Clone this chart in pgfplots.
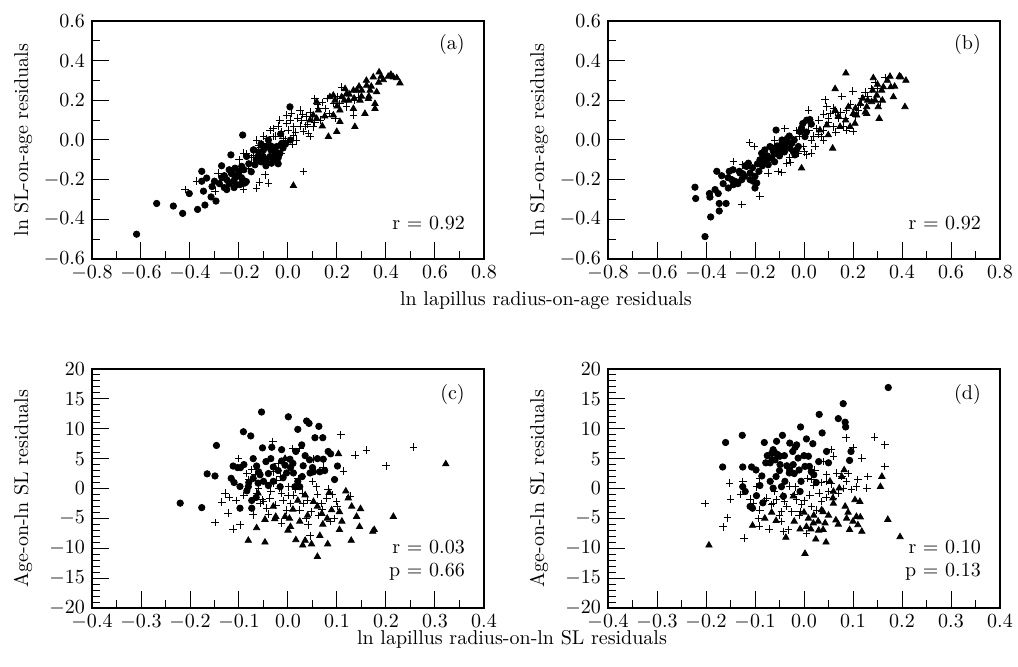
\documentclass[border=0pt]{standalone}
\usepackage{pgfplots}
\pgfplotsset{compat=1.18}
\pgfplotsset{
  panel/.style={
    scale only axis, width=196pt, anchor=south west,
    axis line style={line width=0.6pt},
    tick align=inside, xtick pos=bottom, ytick pos=left,
    major tick length=8.5pt, minor tick length=4pt,
    every tick/.style={black, line width=0.5pt},
    minor x tick num=1,
    xticklabel style={/pgf/number format/.cd, fixed, fixed zerofill, precision=1},
    clip=false,
  },
  top/.style={panel, height=119pt, xmin=-0.8, xmax=0.8, ymin=-0.6, ymax=0.6,
    xtick={-0.8,-0.6,-0.4,-0.2,0,0.2,0.4,0.6,0.8},
    ytick={-0.6,-0.4,-0.2,0,0.2,0.4,0.6}, minor y tick num=1,
    yticklabel style={/pgf/number format/.cd, fixed, fixed zerofill, precision=1}},
  bot/.style={panel, height=119.5pt, xmin=-0.4, xmax=0.4, ymin=-20, ymax=20,
    xtick={-0.4,-0.3,-0.2,-0.1,0,0.1,0.2,0.3,0.4},
    ytick={-20,-15,-10,-5,0,5,10,15,20}, minor y tick num=4},
  circ/.style={only marks, mark=*, mark size=1.6pt, black},
  plus/.style={only marks, mark=+, mark size=1.9pt, black, mark options={line width=0.45pt}},
  tri/.style={only marks, mark=triangle*, mark size=1.8pt, black},
}
\begin{document}
\begin{tikzpicture}
\path[use as bounding box] (0pt,0pt) rectangle (509pt,-333.5pt);
% ---------------- (a)
\begin{axis}[top, at={(46pt,-129.5pt)}]
\addplot[circ] table {
-0.618 -0.475
-0.536 -0.32
-0.468 -0.333
-0.43 -0.37
-0.403 -0.27
-0.369 -0.35
-0.339 -0.328
-0.352 -0.158
-0.352 -0.208
-0.345 -0.258
-0.332 -0.192
-0.314 -0.287
-0.294 -0.308
-0.3 -0.208
-0.31 -0.235
-0.271 -0.13
-0.25 -0.25
-0.233 -0.075
-0.25 -0.2
-0.231 -0.167
-0.223 -0.208
-0.216 -0.142
-0.21 -0.225
-0.203 -0.175
-0.196 -0.225
-0.185 0.025
-0.176 -0.217
-0.189 -0.133
-0.169 -0.083
-0.141 -0.05
-0.135 -0.125
-0.122 -0.083
-0.101 -0.083
-0.087 -0.033
-0.073 -0.083
-0.067 -0.117
-0.06 -0.05
-0.046 -0.1
-0.033 -0.067
-0.046 -0.033
-0.026 -0.017
0.008 0.167
-0.26 -0.18
-0.24 -0.15
-0.215 -0.19
-0.2 -0.16
-0.185 -0.2
-0.16 -0.12
-0.12 -0.06
-0.09 -0.1
-0.07 -0.05
-0.055 -0.08
-0.04 -0.12
-0.08 0.0
-0.03 0.03
-0.28 -0.22
-0.27 -0.19
-0.26 -0.24
-0.24 -0.22
-0.23 -0.17
-0.22 -0.24
-0.21 -0.18
-0.19 -0.19
-0.18 -0.15
-0.17 -0.21
-0.15 -0.16
-0.14 -0.05
-0.13 -0.1
-0.11 -0.11
-0.1 -0.05
-0.09 -0.13
-0.07 -0.03
-0.06 -0.1
-0.05 -0.06
-0.04 -0.09
-0.02 -0.04
-0.01 -0.02
0.01 0.0
-0.11 -0.02
};
\addplot[plus] table {
-0.42 -0.25
-0.373 -0.208
-0.298 -0.258
-0.285 -0.167
-0.182 -0.25
-0.128 -0.242
-0.117 -0.213
-0.08 -0.217
-0.094 -0.175
0.063 -0.158
-0.162 -0.142
-0.182 -0.067
-0.128 0
-0.107 -0.017
-0.087 0.008
-0.073 0.05
-0.06 0.017
-0.033 0.1
-0.026 0.042
-0.005 0.083
0.022 0.067
0.015 0.133
0.049 0.15
0.056 0.1
0.076 0.117
0.083 0.033
0.103 0.067
0.11 0.208
0.124 0.158
0.131 0.1
0.151 0.158
0.171 0.133
0.185 0.183
0.192 0.108
0.212 0.183
0.219 0.267
0.239 0.167
0.267 0.125
0.273 0.2
0.287 0.217
-0.005 0.125
0.035 0
0.022 0.025
0.063 0.042
0.09 0.017
-0.026 -0.067
-0.012 0
-0.06 0.058
-0.15 -0.09
-0.11 -0.04
0.04 0.11
0.07 0.07
0.1 0.12
0.14 0.19
-0.2 -0.1
-0.17 -0.07
-0.14 -0.08
-0.12 -0.03
-0.1 0.02
-0.05 0.02
-0.04 0.07
-0.02 0.01
0.0 0.05
0.01 0.1
0.03 0.04
0.05 0.07
0.06 0.13
0.08 0.08
0.09 0.14
0.11 0.09
0.12 0.18
0.15 0.12
0.16 0.21
0.2 0.22
0.02 -0.02
-0.08 -0.04
};
\addplot[tri] table {
0.022 -0.23
0.165 0.017
0.199 0.042
0.212 0.092
0.171 0.217
0.185 0.225
0.233 0.258
0.273 0.067
0.28 0.25
0.314 0.133
0.321 0.275
0.335 0.25
0.355 0.158
0.355 0.183
0.362 0.242
0.348 0.317
0.372 0.342
0.389 0.303
0.409 0.32
0.43 0.317
0.444 0.313
0.457 0.287
0.294 0.2
0.267 0.158
0.247 0.2
0.212 0.15
0.192 0.2
0.124 0.15
0.117 0.108
0.103 0.125
0.09 0.1
0.239 0.233
0.301 0.25
0.267 0.25
0.328 0.208
0.117 0.192
0.185 0.125
0.219 0.217
0.15 0.12
0.14 0.07
0.2 0.17
0.23 0.2
0.25 0.23
0.27 0.21
0.3 0.22
0.32 0.3
0.34 0.27
0.33 0.22
0.29 0.27
0.38 0.32
0.42 0.33
0.37 0.29
};
\node[anchor=east] at (rel axis cs:0.969,0.90) {(a)};
\node[anchor=base east] at (rel axis cs:0.969,0.122) {r = 0.92};
\end{axis}
% ---------------- (b)
\begin{axis}[top, at={(304pt,-129.5pt)}]
\addplot[circ] table {
-0.445 -0.238
-0.442 -0.295
-0.404 -0.487
-0.381 -0.388
-0.386 -0.27
-0.384 -0.288
-0.363 -0.25
-0.35 -0.27
-0.346 -0.32
-0.346 -0.358
-0.318 -0.32
-0.356 -0.158
-0.336 -0.18
-0.309 -0.242
-0.305 -0.158
-0.295 -0.2
-0.288 -0.225
-0.282 -0.208
-0.264 -0.158
-0.254 -0.2
-0.243 -0.183
-0.234 -0.133
-0.227 -0.117
-0.22 -0.167
-0.207 -0.208
-0.2 -0.242
-0.193 -0.217
-0.184 -0.158
-0.173 -0.067
-0.166 -0.092
-0.159 -0.117
-0.152 -0.1
-0.146 -0.125
-0.139 -0.033
-0.132 -0.092
-0.125 -0.058
-0.114 0.05
-0.105 -0.042
-0.091 -0.02
-0.078 -0.033
-0.068 0.008
-0.057 -0.042
-0.05 -0.017
-0.037 -0.075
-0.023 -0.033
-0.016 0.042
0.004 0.017
-0.005 0.083
0.011 0.1
0.024 0.103
-0.044 -0.058
-0.098 -0.067
-0.2 -0.183
-0.261 -0.167
-0.15 -0.08
-0.12 -0.07
-0.085 -0.05
-0.07 -0.01
-0.33 -0.22
-0.31 -0.19
-0.29 -0.15
-0.27 -0.22
-0.25 -0.17
-0.24 -0.13
-0.22 -0.2
-0.21 -0.14
-0.19 -0.12
-0.18 -0.1
-0.17 -0.13
-0.16 -0.05
-0.14 -0.09
-0.13 -0.04
-0.12 -0.11
-0.11 -0.03
-0.1 -0.08
-0.09 0.0
-0.08 -0.06
-0.06 0.02
-0.04 0.0
-0.03 -0.05
-0.01 0.06
0.01 0.04
0.03 0.08
};
\addplot[plus] table {
-0.254 -0.325
-0.18 -0.283
-0.288 -0.108
-0.223 -0.013
-0.203 -0.033
-0.25 -0.125
-0.146 -0.167
-0.105 -0.158
-0.091 -0.163
-0.071 -0.117
-0.057 -0.113
-0.078 0.058
-0.03 0.047
0.018 0.15
0.031 -0.067
0.011 -0.075
0.052 0.058
0.072 0.017
0.086 0.203
0.093 0.167
0.106 0.133
0.12 0.067
0.14 0.108
0.154 0.22
0.174 0.05
0.199 0.247
0.201 0.042
0.222 0.15
0.249 0.242
0.276 0.258
0.29 0.292
0.331 0.313
0.31 0.192
0.045 -0.033
-0.003 -0.033
0.079 0
0.174 0.15
0.235 0.208
-0.044 0
-0.023 -0.067
0.06 0.03
0.1 0.09
0.13 0.14
0.03 0.0
-0.12 0.0
-0.06 -0.09
-0.02 0.02
0.0 -0.06
0.02 0.05
0.04 0.02
0.06 0.1
0.08 0.05
0.1 0.11
0.12 0.16
0.13 0.04
0.15 0.14
0.17 0.11
0.19 0.18
0.21 0.12
0.23 0.18
0.26 0.22
0.3 0.26
0.08 0.13
0.16 0.07
};
\addplot[tri] table {
-0.01 -0.142
0.117 -0.042
0.127 0.15
0.171 0.337
0.127 0.258
0.147 0.067
0.188 0.067
0.208 0.083
0.215 0.125
0.229 0.183
0.256 0.133
0.256 0.167
0.283 0.313
0.29 0.2
0.303 0.167
0.307 0.108
0.317 0.25
0.351 0.32
0.354 0.267
0.365 0.217
0.389 0.32
0.395 0.317
0.416 0.3
0.412 0.167
0.093 0.075
0.099 0.025
0.065 0.05
0.181 0.167
0.201 0.133
0.276 0.192
0.297 0.225
0.324 0.267
0.14 0.12
0.17 0.1
0.21 0.16
0.24 0.21
0.26 0.2
0.28 0.25
0.3 0.28
0.32 0.2
0.34 0.3
0.37 0.27
0.39 0.32
0.25 0.14
};
\node[anchor=east] at (rel axis cs:0.969,0.90) {(b)};
\node[anchor=base east] at (rel axis cs:0.969,0.122) {r = 0.92};
\end{axis}
% ---------------- (c)
\begin{axis}[bot, at={(46pt,-304pt)}]
\addplot[circ] table {
-0.22 -2.45
-0.176 -3.2
-0.165 2.45
-0.149 2.1
-0.146 7.2
-0.116 1.7
-0.112 3.76
-0.103 3.5
-0.097 3.5
-0.098 0.33
-0.091 9.5
-0.084 -0.4
-0.076 8.8
-0.074 -2.0
-0.071 5.0
-0.064 3.76
-0.071 1.7
-0.061 0.9
-0.057 2.3
-0.054 12.8
-0.052 6.8
-0.05 1.2
-0.033 6.9
-0.035 5.0
-0.03 3.6
-0.013 6.5
-0.013 4.6
-0.003 2.6
0.0007 12.0
0.004 4.9
0.01 4.2
0.016 6.2
0.02 9.9
0.028 7.3
0.031 3.8
0.038 11.3
0.043 10.9
0.044 4.8
0.045 2.6
0.055 8.5
0.063 10.4
0.071 8.5
0.065 2.8
0.082 6.2
0.087 5.8
0.072 4.9
0.101 3.76
0.095 1.5
-0.016 0.3
0.024 0.3
0.029 2.0
0.014 0.3
-0.006 3.9
-0.03 1.2
0.011 2.6
0.052 2.8
-0.074 -3.3
-0.098 -3.3
-0.081 0.3
-0.04 2.5
-0.09 4.0
-0.08 1.0
-0.06 2.8
-0.045 4.5
-0.04 0.5
-0.02 3.0
-0.01 1.8
0.005 3.5
0.02 1.2
0.035 5.5
0.05 3.5
0.06 5.0
0.075 3.0
-0.11 1.0
-0.065 -1.5
};
\addplot[plus] table {
-0.149 -5.7
-0.112 -6.8
-0.098 -6.1
-0.122 -4.1
-0.135 -2.3
-0.128 -0.8
-0.106 -2.0
-0.101 5.0
-0.084 2.5
-0.074 3.2
-0.067 2.3
-0.064 -0.8
-0.057 -2.5
-0.05 -2.2
-0.044 -3.3
-0.037 -1.6
-0.031 7.9
-0.03 2.8
-0.023 1.4
-0.018 0.06
-0.013 -0.8
-0.01 -2.0
-0.003 -3.6
0.0007 0.3
0.01 6.7
0.011 -1.1
0.024 -3.6
0.031 -2.5
0.037 -5.0
0.041 -6.1
0.045 -7.9
0.048 -3.9
0.058 0.3
0.062 -4.5
0.069 -2.5
0.072 3.6
0.079 -1.6
0.082 -0.1
0.086 -5.5
0.095 -5.0
0.099 -2.2
0.108 9.0
0.113 2.9
0.127 -1.3
0.137 5.6
0.16 6.4
0.2 3.8
0.256 6.9
0.052 4.9
0.024 6.7
-0.071 -4.4
-0.04 -4.3
-0.013 -5.8
-0.03 0.9
-0.052 -1.9
0.021 1.6
-0.09 -1.2
-0.08 1.5
-0.06 0.0
-0.045 1.0
-0.035 -0.5
-0.025 -2.8
-0.015 2.0
0.0 -1.2
0.005 -2.5
0.015 -0.2
0.03 -0.8
0.04 -2.0
0.05 1.2
0.06 -1.0
0.07 -3.5
0.09 -1.0
0.1 -3.0
-0.12 -1.5
-0.02 4.2
};
\addplot[tri] table {
-0.081 -8.7
-0.047 -9.0
-0.061 -0.8
-0.064 -6.6
-0.047 -5.2
-0.027 -5.1
-0.006 -4.7
0.003 -5.0
0.005 -6.4
0.016 -8.6
0.03 -9.5
0.035 -8.7
0.048 -9.3
0.06 -11.4
0.065 -7.9
0.071 -6.0
0.081 -9.3
0.084 -0.7
0.103 5.8
0.105 -3.9
0.105 -6.9
0.118 -0.45
0.123 -1.6
0.129 -8.7
0.14 -4.7
0.146 -6.4
0.148 -3.4
0.173 -7.2
0.176 -6.9
0.215 -4.7
0.322 4.1
-0.006 5.0
0.035 -1.1
0.052 -2.2
0.024 -5.5
-0.025 -4.7
0.069 -4.2
0.089 -3.6
-0.03 -3.0
0.01 -3.5
0.04 -4.5
0.06 -3.0
0.08 -5.0
0.11 -5.5
0.13 -3.0
0.02 -2.0
0.0 -7.0
};
\node[anchor=east] at (rel axis cs:0.969,0.895) {(c)};
\node[anchor=base east] at (rel axis cs:0.969,0.23) {r = 0.03};
\node[anchor=base east] at (rel axis cs:0.969,0.13) {p = 0.66};
\end{axis}
% ---------------- (d)
\begin{axis}[bot, at={(304pt,-304pt)}]
\addplot[circ] table {
-0.16 7.7
-0.166 3.6
-0.126 8.9
-0.125 3.6
-0.125 0.3
-0.107 3.6
-0.098 3.1
-0.11 -3.0
-0.105 -3.3
-0.097 -1.2
-0.084 -2.4
-0.081 7.7
-0.078 4.3
-0.069 1.2
-0.066 5.9
-0.063 6.5
-0.059 4.8
-0.056 7.9
-0.054 5.7
-0.049 5.4
-0.049 4.0
-0.046 0.3
-0.063 0.06
-0.057 2.0
-0.044 8.9
-0.03 2.6
-0.029 7.6
-0.023 6.2
-0.018 6.9
-0.015 7.3
-0.012 5.1
-0.01 3.1
-0.007 10.3
-0.006 1.2
0.002 3.7
0.005 8.3
0.009 5.4
0.011 3.7
0.018 7.5
0.02 2.3
0.031 12.4
0.037 9.3
0.046 6.2
0.05 4.3
0.07 11.7
0.08 14.2
0.084 11.1
0.085 10.3
0.093 4.7
0.096 6.2
0.172 16.9
-0.029 3.1
-0.022 4.0
-0.039 1.2
-0.042 -1.3
-0.008 -0.5
-0.086 2.1
-0.069 4.3
-0.075 5.5
-0.065 4.8
-0.06 6.0
-0.05 3.0
-0.04 5.5
-0.035 3.8
-0.02 2.5
0.0 5.5
0.015 2.8
0.025 1.0
-0.09 0.5
-0.12 -0.5
0.03 4.5
};
\addplot[plus] table {
-0.202 -2.5
-0.165 -6.4
-0.156 -4.9
-0.152 0.9
-0.15 -1.8
-0.122 -8.3
-0.125 1.2
-0.103 -2.5
-0.097 0.3
-0.091 1.6
-0.091 -6.3
-0.09 -3.6
-0.076 -1.6
-0.071 -6.8
-0.066 -2.7
-0.056 -1.9
-0.047 -5.5
-0.044 -1.3
-0.042 -7.2
-0.035 -3.0
-0.032 -6.9
-0.029 0.4
-0.025 -3.9
-0.018 0.3
-0.015 -1.9
-0.008 -3.9
-0.005 -2.7
0.005 -7.5
0.007 1.7
0.012 -1.1
0.022 3.1
0.026 -3.6
0.031 -0.8
0.036 -2.2
0.039 4.5
0.046 2.3
0.05 -0.5
0.056 6.5
0.06 5.4
0.06 -1.6
0.067 2.6
0.077 2.0
0.086 8.5
0.087 1.2
0.097 -0.2
0.1 6.8
0.107 0.3
0.118 5.1
0.128 0.06
0.144 8.6
0.165 7.3
0.165 3.7
-0.093 -5.0
-0.046 -3.9
-0.063 -2.5
0.016 1.5
0.046 1.2
-0.13 -1.0
-0.11 -1.8
-0.08 -2.0
-0.06 -0.5
-0.04 -2.2
-0.02 -1.0
-0.01 -4.5
0.0 -2.0
0.015 -3.0
0.02 0.5
0.035 1.0
0.045 -1.5
0.055 0.8
0.07 -0.8
0.08 0.0
0.09 2.5
0.11 1.5
0.13 2.0
-0.05 -4.5
};
\addplot[tri] table {
-0.194 -9.5
-0.105 -6.2
-0.066 -4.0
-0.057 -5.4
-0.037 -8.2
-0.022 -1.3
-0.008 -6.8
0.002 -10.9
0.009 -5.0
0.014 -6.8
0.024 -8.5
0.029 -5.5
0.036 -3.6
0.039 -6.9
0.043 -5.8
0.045 -9.0
0.053 1.2
0.059 -1.6
0.065 -5.3
0.072 0.06
0.077 2.0
0.082 3.1
0.087 -5.0
0.093 -6.9
0.104 -1.9
0.107 -4.7
0.11 -6.1
0.114 -2.2
0.118 -7.2
0.159 2.0
0.156 0.3
0.171 -5.2
0.196 -8.1
0.005 -6.4
0.019 -5.8
0.039 -3.9
0.06 -2.5
0.084 -3.0
-0.02 -5.5
0.0 -4.0
0.02 -4.5
0.03 -7.0
0.05 -4.5
0.07 -6.0
0.09 -4.0
0.1 -5.5
0.115 -4.8
0.06 -0.5
-0.08 -5.0
};
\node[anchor=east] at (rel axis cs:0.969,0.895) {(d)};
\node[anchor=base east] at (rel axis cs:0.969,0.23) {r = 0.10};
\node[anchor=base east] at (rel axis cs:0.969,0.13) {p = 0.13};
\end{axis}
% ---------------- labels
\node[rotate=90, anchor=base] at (14pt,-70pt) {ln SL-on-age residuals};
\node[rotate=90, anchor=base] at (272pt,-70pt) {ln SL-on-age residuals};
\node[rotate=90, anchor=base] at (14pt,-244.25pt) {Age-on-ln SL residuals};
\node[rotate=90, anchor=base] at (272pt,-244.25pt) {Age-on-ln SL residuals};
\node[anchor=base] at (273pt,-153pt) {ln lapillus radius-on-age residuals};
\node[anchor=base] at (256pt,-322.5pt) {ln lapillus radius-on-ln SL residuals};
\end{tikzpicture}
\end{document}
